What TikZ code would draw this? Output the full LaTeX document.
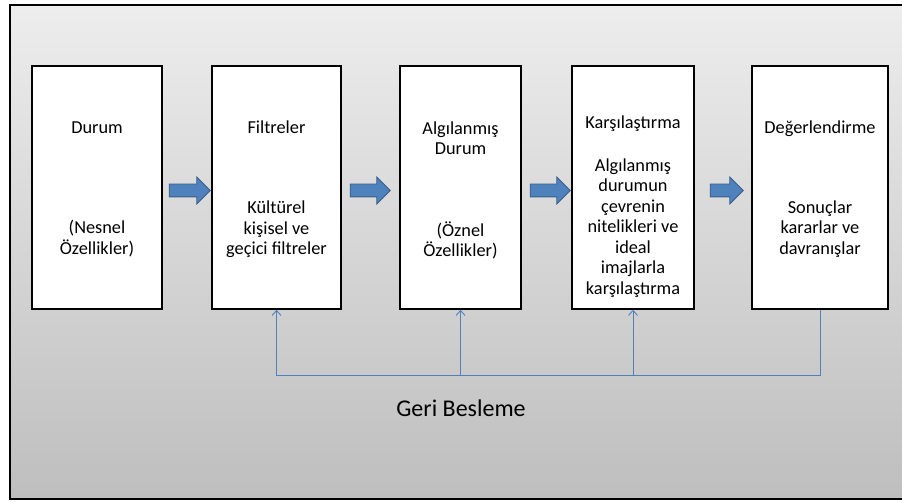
\documentclass[tikz,border=0pt]{standalone}
\usepackage{fontspec}
\setmainfont{Carlito}
\usetikzlibrary{shapes.arrows,arrows.meta}
\definecolor{flowblue}{RGB}{79,129,189}
\definecolor{flowedge}{RGB}{56,93,138}
\definecolor{bgtop}{RGB}{237,237,237}
\definecolor{bgbottom}{RGB}{190,190,190}
\tikzset{
  stage/.style={draw=black, line width=1.6pt, fill=white, minimum height=243pt, inner sep=0pt},
  stagetext/.style={align=center, inner sep=0pt, font=\fontsize{18.3}{20.5}\selectfont},
  flowarrow/.style={single arrow, draw=flowedge, fill=flowblue, line width=0.8pt,
    minimum width=26pt, single arrow head extend=7pt, inner xsep=0pt, inner ysep=6pt,
    text height=0pt, text depth=0pt},
  feedback/.style={draw=flowblue, line width=0.9pt},
  fbtip/.style={-{Straight Barb[length=5pt,width=9pt]}},
}
\begin{document}
\begin{tikzpicture}[x=1pt, y=-1pt]
  \useasboundingbox (0,0) rectangle (902,502);
  \draw[line width=1.2pt, top color=bgtop, bottom color=bgbottom] (10,5) rectangle (906,499);

  % stages
  \node[stage, minimum width=130pt] (durum) at (97,187.5) {};
  \node[stage, minimum width=129pt] (filtre) at (276.5,187.5) {};
  \node[stage, minimum width=121pt] (algi) at (460.5,187.5) {};
  \node[stage, minimum width=122pt] (karsi) at (633,187.5) {};
  \node[stage, minimum width=136pt] (deger) at (820,187.5) {};

  \node[stagetext] (durumtext) at (97,189) {Durum\\[80pt](Nesnel\\Özellikler)};
  \node[stagetext] (filtretext) at (276.5,189) {Filtreler\\[60pt]Kültürel\\kişisel ve\\geçici filtreler};
  \node[stagetext] (algitext) at (460.5,190.5) {Algılanmış\\Durum\\[61pt](Öznel\\Özellikler)};
  \node[stagetext] (karsitext) at (633,206.5) {Karşılaştırma\\[22pt]Algılanmış\\durumun\\çevrenin\\nitelikleri ve\\ideal\\imajlarla\\karşılaştırma};
  \node[stagetext] (degertext) at (820,189) {Değerlendirme\\[59pt]Sonuçlar\\kararlar ve\\davranışlar};

  % block arrows
  \node[flowarrow, minimum height=41pt] (ok1) at (186.5,190.5) {};
  \node[flowarrow, minimum height=40pt] (ok2) at (367,190.5) {};
  \node[flowarrow, minimum height=40pt] (ok3) at (547,190.5) {};
  \node[flowarrow, minimum height=33pt] (ok4) at (723.5,190.5) {};

  % feedback
  \coordinate (fbline) at (277,375);
  \draw[feedback, fbtip] (deger.south) |- (filtre.south |- fbline) -- (filtre.south);
  \draw[feedback, fbtip] (algi.south |- fbline) -- (algi.south);
  \draw[feedback, fbtip] (karsi.south |- fbline) -- (karsi.south);

  \node[font=\fontsize{24}{28}\selectfont] (geri) at (461,408) {Geri Besleme};
\end{tikzpicture}
\end{document}
